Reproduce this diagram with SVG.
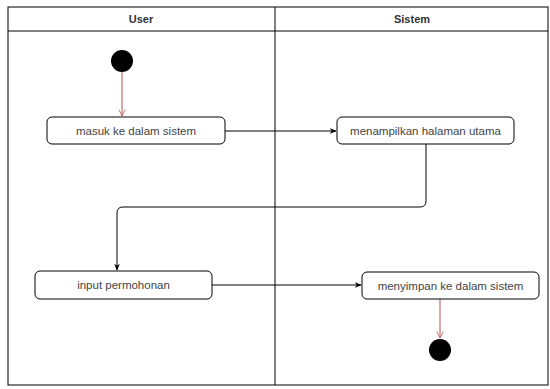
<svg xmlns="http://www.w3.org/2000/svg" width="550" height="389" viewBox="0 0 550 389">
<style>
.lane{fill:none;stroke:#000;stroke-width:1}
.hdr{font-family:"Liberation Sans",Arial,sans-serif;font-size:11px;font-weight:bold;fill:#333;text-anchor:middle}
.box{fill:#fff;stroke:#000;stroke-width:1}
.lbl{font-family:"Liberation Sans",Arial,sans-serif;font-size:11.5px;fill:#444;text-anchor:middle}
.edge{fill:none;stroke:#000;stroke-width:1}
.red{fill:none;stroke:#b85450;stroke-width:1}
</style>
<defs>
<marker id="ah" viewBox="0 0 10 10" refX="9" refY="5" markerWidth="7" markerHeight="7" orient="auto"><path d="M0,1 L10,5 L0,9 L3,5 Z" fill="#000"/></marker>
<marker id="ahr" viewBox="0 0 10 10" refX="9" refY="5" markerWidth="8" markerHeight="8" orient="auto"><path d="M1,1 L9,5 L1,9" fill="none" stroke="#b85450"/></marker>
</defs>
<rect width="550" height="389" fill="#fff"/>
<g id="lanes">
<rect class="lane" x="8" y="7" width="540" height="378"/>
<line class="lane" x1="8" y1="31" x2="548" y2="31"/>
<line class="lane" x1="275" y1="7" x2="275" y2="385"/>
<text class="hdr" x="141" y="23">User</text>
<text class="hdr" x="412" y="23">Sistem</text>
</g>
<g id="connectors">
<line class="red" x1="122" y1="72" x2="122" y2="116" marker-end="url(#ahr)"/>
<line class="edge" x1="225" y1="131" x2="336" y2="131" marker-end="url(#ah)"/>
<path class="edge" d="M426,144 V201 Q426,207 420,207 H123 Q117,207 117,213 V270" marker-end="url(#ah)"/>
<line class="edge" x1="212" y1="285" x2="361" y2="285" marker-end="url(#ah)"/>
<line class="red" x1="440" y1="299" x2="440" y2="338" marker-end="url(#ahr)"/>
</g>
<g id="start"><circle cx="122" cy="61" r="11" fill="#000"/></g>
<g id="n1"><rect class="box" x="47" y="117" width="178" height="27" rx="5"/><text class="lbl" x="136" y="134.5">masuk ke dalam sistem</text></g>
<g id="n2"><rect class="box" x="337" y="117" width="177" height="27" rx="5"/><text class="lbl" x="425.5" y="134.5">menampilkan halaman utama</text></g>
<g id="n3"><rect class="box" x="35" y="271" width="177" height="28" rx="5"/><text class="lbl" x="123.5" y="289">input permohonan</text></g>
<g id="n4"><rect class="box" x="362" y="272" width="177" height="27" rx="5"/><text class="lbl" x="450.5" y="289.5">menyimpan ke dalam sistem</text></g>
<g id="end"><circle cx="440" cy="350" r="11" fill="#000"/></g>
</svg>
